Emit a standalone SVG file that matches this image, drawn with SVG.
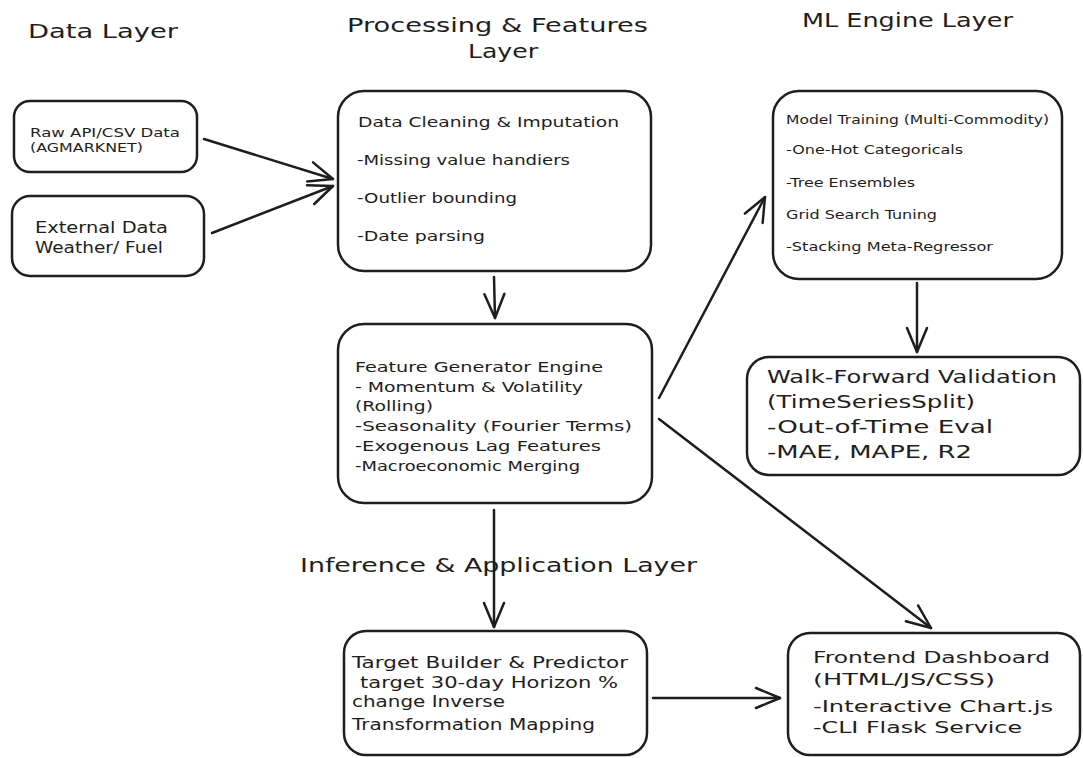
<svg xmlns="http://www.w3.org/2000/svg" width="1083" height="758" viewBox="0 0 1083 758">
<style>
.box{fill:#fff;stroke:#1e1e1e;stroke-width:2.5}
.t{font-family:"DejaVu Sans","Liberation Sans",sans-serif;fill:#1e1e1e}
.title{font-size:19px}
.conn{stroke:#1e1e1e;stroke-width:2.5;fill:none;stroke-linecap:round}
</style>
<defs>
<marker id="ah" markerUnits="userSpaceOnUse" viewBox="0 0 30 24" markerWidth="30" markerHeight="24" refX="28" refY="12" orient="auto">
<path d="M4,2 L28,12 L4,22" fill="none" stroke="#1e1e1e" stroke-width="2.5" stroke-linecap="round" stroke-linejoin="round"/>
</marker>
</defs>
<rect width="1083" height="758" fill="#fff"/>
<g id="titles">
<text class="t title" x="28" y="38" textLength="150" lengthAdjust="spacingAndGlyphs">Data Layer</text>
<text class="t title" x="347" y="32" textLength="301" lengthAdjust="spacingAndGlyphs">Processing &amp; Features</text>
<text class="t title" x="468" y="58" textLength="70" lengthAdjust="spacingAndGlyphs">Layer</text>
<text class="t title" x="802" y="27" textLength="211" lengthAdjust="spacingAndGlyphs">ML Engine Layer</text>
<text class="t" font-size="20" x="300" y="572" textLength="397" lengthAdjust="spacingAndGlyphs">Inference &amp; Application Layer</text>
</g>
<g id="connectors">
<line class="conn" x1="204" y1="139" x2="333" y2="179" marker-end="url(#ah)"/>
<line class="conn" x1="212" y1="233" x2="333" y2="186" stroke-width="3" marker-end="url(#ah)"/>
<line class="conn" x1="494" y1="277" x2="495" y2="318" stroke-width="2" marker-end="url(#ah)"/>
<line class="conn" x1="659" y1="398" x2="765" y2="197" stroke-width="3" marker-end="url(#ah)"/>
<line class="conn" x1="917" y1="283" x2="917" y2="352" stroke-width="3.5" marker-end="url(#ah)"/>
<line class="conn" x1="659" y1="419" x2="931" y2="628" stroke-width="1.8" marker-end="url(#ah)"/>
<line class="conn" x1="494" y1="510" x2="494" y2="627" stroke-width="3.5" marker-end="url(#ah)"/>
<line class="conn" x1="653" y1="698" x2="780" y2="698" marker-end="url(#ah)"/>
</g>
<g id="raw-data">
<rect class="box" x="14" y="101" width="183" height="71" rx="16"/>
<text class="t" font-size="12" fill="#333" x="30" y="137" textLength="150" lengthAdjust="spacingAndGlyphs">Raw API/CSV Data</text>
<text class="t" font-size="12" x="30" y="152" textLength="113" lengthAdjust="spacingAndGlyphs">(AGMARKNET)</text>
</g>
<g id="external-data">
<rect class="box" x="12" y="196" width="192" height="80" rx="18"/>
<text class="t" font-size="15" x="35" y="233" textLength="133" lengthAdjust="spacingAndGlyphs">External Data</text>
<text class="t" font-size="15" x="35" y="253" textLength="128" lengthAdjust="spacingAndGlyphs">Weather/ Fuel</text>
</g>
<g id="data-cleaning">
<rect class="box" x="338" y="91" width="313" height="180" rx="26"/>
<text class="t" font-size="14" x="358" y="127" textLength="261" lengthAdjust="spacingAndGlyphs">Data Cleaning &amp; Imputation</text>
<text class="t" font-size="14" x="357" y="165" textLength="213" lengthAdjust="spacingAndGlyphs">-Missing value handiers</text>
<text class="t" font-size="14" x="357" y="203" textLength="160" lengthAdjust="spacingAndGlyphs">-Outlier bounding</text>
<text class="t" font-size="14" x="357" y="241" textLength="128" lengthAdjust="spacingAndGlyphs">-Date parsing</text>
</g>
<g id="feature-generator">
<rect class="box" x="338" y="324" width="314" height="179" rx="26"/>
<text class="t" font-size="14" x="355" y="372" textLength="248" lengthAdjust="spacingAndGlyphs">Feature Generator Engine</text>
<text class="t" font-size="14" x="355" y="392" textLength="228" lengthAdjust="spacingAndGlyphs">- Momentum &amp; Volatility</text>
<text class="t" font-size="14" x="355" y="411" textLength="78" lengthAdjust="spacingAndGlyphs">(Rolling)</text>
<text class="t" font-size="14" x="355" y="431" textLength="277" lengthAdjust="spacingAndGlyphs">-Seasonality (Fourier Terms)</text>
<text class="t" font-size="14" x="355" y="451" textLength="246" lengthAdjust="spacingAndGlyphs">-Exogenous Lag Features</text>
<text class="t" font-size="14" x="355" y="471" textLength="225" lengthAdjust="spacingAndGlyphs">-Macroeconomic Merging</text>
</g>
<g id="model-training">
<rect class="box" x="773" y="91" width="289" height="188" rx="26"/>
<text class="t" font-size="12" x="786" y="124" textLength="263" lengthAdjust="spacingAndGlyphs">Model Training (Multi-Commodity)</text>
<text class="t" font-size="12" x="786" y="154" textLength="177" lengthAdjust="spacingAndGlyphs">-One-Hot Categoricals</text>
<text class="t" font-size="12" x="786" y="187" textLength="129" lengthAdjust="spacingAndGlyphs">-Tree Ensembles</text>
<text class="t" font-size="12" x="786" y="219" textLength="151" lengthAdjust="spacingAndGlyphs">Grid Search Tuning</text>
<text class="t" font-size="12" x="786" y="251" textLength="207" lengthAdjust="spacingAndGlyphs">-Stacking Meta-Regressor</text>
</g>
<g id="walk-forward">
<rect class="box" x="747" y="357" width="333" height="118" rx="22"/>
<text class="t" font-size="18" x="767" y="383" textLength="290" lengthAdjust="spacingAndGlyphs">Walk-Forward Validation</text>
<text class="t" font-size="18" x="767" y="408" textLength="208" lengthAdjust="spacingAndGlyphs">(TimeSeriesSplit)</text>
<text class="t" font-size="18" x="767" y="433" textLength="226" lengthAdjust="spacingAndGlyphs">-Out-of-Time Eval</text>
<text class="t" font-size="18" x="767" y="458" textLength="205" lengthAdjust="spacingAndGlyphs">-MAE, MAPE, R2</text>
</g>
<g id="target-builder">
<rect class="box" x="344" y="631" width="303" height="124" rx="22"/>
<text class="t" font-size="15" x="352" y="668" textLength="276" lengthAdjust="spacingAndGlyphs">Target Builder &amp; Predictor</text>
<text class="t" font-size="15" x="360" y="688" textLength="258" lengthAdjust="spacingAndGlyphs">target 30-day Horizon %</text>
<text class="t" font-size="15" x="352" y="707" textLength="153" lengthAdjust="spacingAndGlyphs">change Inverse</text>
<text class="t" font-size="15" x="352" y="730" textLength="243" lengthAdjust="spacingAndGlyphs">Transformation Mapping</text>
</g>
<g id="frontend-dashboard">
<rect class="box" x="788" y="633" width="292" height="122" rx="22"/>
<text class="t" font-size="16" x="813" y="663" textLength="237" lengthAdjust="spacingAndGlyphs">Frontend Dashboard</text>
<text class="t" font-size="16" x="813" y="685" textLength="182" lengthAdjust="spacingAndGlyphs">(HTML/JS/CSS)</text>
<text class="t" font-size="16" x="813" y="712" textLength="240" lengthAdjust="spacingAndGlyphs">-Interactive Chart.js</text>
<text class="t" font-size="16" x="813" y="733" textLength="209" lengthAdjust="spacingAndGlyphs">-CLI Flask Service</text>
</g>
</svg>
